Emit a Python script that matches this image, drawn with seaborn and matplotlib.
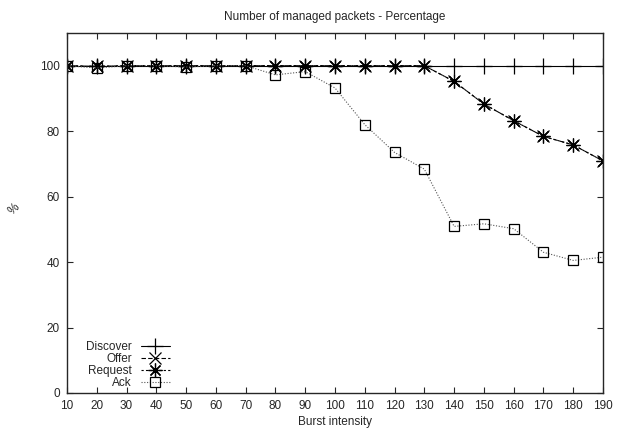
import pandas as pd
import matplotlib
matplotlib.use("Agg")
import matplotlib.pyplot as plt
import seaborn as sns

# --- data ---
burst = [10, 20, 30, 40, 50, 60, 70, 80, 90, 100, 110, 120, 130, 140, 150, 160, 170, 180, 190]
discover = [100] * 19
offer = [100, 99.8, 100, 100, 100, 100, 100, 100, 100, 100, 100, 100, 100,
         95.2, 88.3, 83.2, 78.4, 75.8, 70.9]
request = [100, 99.8, 100, 100, 100, 100, 100, 100, 100, 100, 100, 100, 100,
           95.2, 88.3, 83.2, 78.4, 75.8, 70.9]
ack = [100, 99.3, 100, 100, 99.6, 100, 100, 97.2, 98.2, 93.2, 82.0, 73.5, 68.4,
       50.9, 51.7, 50.2, 43.0, 40.5, 41.5]

series = ["Discover", "Offer", "Request", "Ack"]
values = [discover, offer, request, ack]

df = pd.concat([pd.DataFrame({"burst": burst, "pct": v, "series": s})
                for s, v in zip(series, values)], ignore_index=True)

sns.set_style("ticks")
plt.rcParams["font.family"] = ["Liberation Sans", "DejaVu Sans"]
plt.rcParams["xtick.direction"] = "in"
plt.rcParams["ytick.direction"] = "in"

fig = plt.figure(figsize=(6.25, 4.34), dpi=100)
ax = fig.add_axes([0.1072, 0.0945, 0.8576, 0.8295])

# gnuplot-like point/line types
styles = {
    "Discover": dict(color="black", linestyle="-", marker="+", markersize=11),
    "Offer": dict(color="black", linestyle=(0, (4, 2)), marker="x", markersize=8),
    "Request": dict(color="black", linestyle=(0, (2, 2)), marker=(8, 2, 0), markersize=10),
    "Ack": dict(color="#555555", linestyle=(0, (1, 1.5)), marker="s", markersize=7,
                markerfacecolor="none"),
}

for s in series:
    sub = df[df["series"] == s]
    sns.lineplot(data=sub, x="burst", y="pct", ax=ax, label=s, linewidth=0.8,
                 markeredgecolor="black", markeredgewidth=0.9, **styles[s])

ax.set_xlim(10, 190)
ax.set_ylim(0, 110)
ax.set_xticks(burst)
ax.set_yticks([0, 20, 40, 60, 80, 100])
ax.tick_params(axis="both", labelsize=8.5, length=4, width=0.8,
               top=True, right=True, pad=5)
for sp in ax.spines.values():
    sp.set_linewidth(1.0)
    sp.set_visible(True)

ax.set_title("Number of managed packets - Percentage", fontsize=8.5, pad=9)
ax.set_xlabel("Burst intensity", fontsize=8.5, labelpad=3)
ax.set_ylabel("%", fontsize=8.5, rotation=45)
ax.yaxis.set_label_coords(-0.091, 0.5)

leg = ax.legend(loc="lower left", frameon=False, markerfirst=False, fontsize=8.5,
                handlelength=2.4, labelspacing=0.0, borderaxespad=0.3,
                bbox_to_anchor=(0.02, -0.012))

fig.savefig("out.png", dpi=100)
